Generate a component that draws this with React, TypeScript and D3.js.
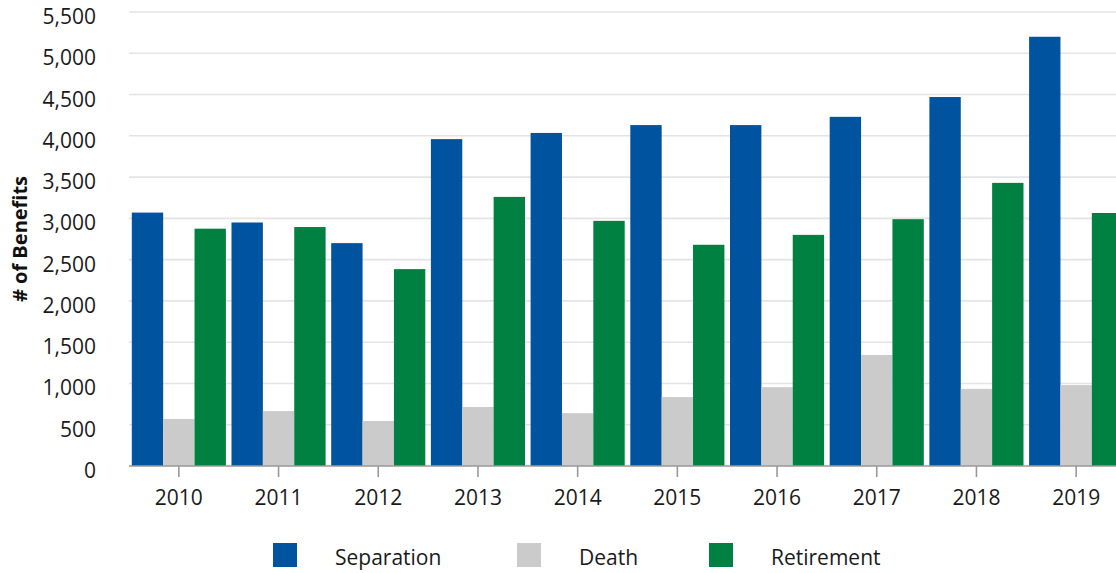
import React from "react";
import * as d3 from "d3";

const years = ["2010", "2011", "2012", "2013", "2014", "2015", "2016", "2017", "2018", "2019"];
const seriesNames = ["Separation", "Death", "Retirement"];
const separation = [3070, 2950, 2700, 3960, 4035, 4130, 4130, 4230, 4470, 5200];
const death = [570, 665, 545, 715, 640, 835, 955, 1345, 935, 980];
const retirement = [2875, 2895, 2385, 3260, 2970, 2680, 2800, 2990, 3430, 3065];
const yTicks = [0, 500, 1000, 1500, 2000, 2500, 3000, 3500, 4000, 4500, 5000, 5500];
const colors = ["#00539f", "#cbcbcb", "#008142"];

const W = 1116;
const H = 573;
const FONT = "'Open Sans', sans-serif";

export default function App() {
  const values = [separation, death, retirement];
  const x0 = d3.scaleBand<string>().domain(years).range([129, 1126]).padding(0);
  const bw = x0.bandwidth();
  const x1 = d3.scaleBand<string>().domain(seriesNames).range([2.8, bw - 2.8]).padding(0);
  const y = d3.scaleLinear().domain([0, 5500]).range([466, 12]);
  const fmt = d3.format(",");

  const legendX = [273, 517, 709];

  return (
    <svg width={W} height={H} style={{ position: "absolute", left: 0, top: 0, background: "#fff" }}>
      {yTicks.map((t) => (
        <g key={t}>
          {t > 0 && (
            <line x1={129} x2={W} y1={y(t)} y2={y(t)} stroke="#e4e4e4" strokeWidth={1.6} />
          )}
          <text x={96} y={y(t) + 12} textAnchor="end" fontFamily={FONT} fontSize={21} fill="#1a1a1a">
            {fmt(t)}
          </text>
        </g>
      ))}
      {years.map((yr, i) => (
        <g key={yr}>
          {seriesNames.map((s, j) => (
            <rect
              key={s}
              x={(x0(yr) as number) + (x1(s) as number)}
              y={y(values[j][i])}
              width={x1.bandwidth()}
              height={y(0) - y(values[j][i])}
              fill={colors[j]}
            />
          ))}
        </g>
      ))}
      <line x1={129} x2={W} y1={y(0)} y2={y(0)} stroke="#999" strokeWidth={1.6} />
      {years.map((yr) => {
        const cx = (x0(yr) as number) + bw / 2;
        return (
          <g key={yr}>
            <line x1={cx} x2={cx} y1={y(0)} y2={477} stroke="#999" strokeWidth={1.6} />
            <text x={cx} y={505} textAnchor="middle" fontFamily={FONT} fontSize={21} fill="#1a1a1a">
              {yr}
            </text>
          </g>
        );
      })}
      <text
        transform={`translate(27,239) rotate(-90)`}
        textAnchor="middle"
        fontFamily={FONT}
        fontSize={20}
        fontWeight="bold"
        fill="#111"
      >
        # of Benefits
      </text>
      {seriesNames.map((s, j) => (
        <g key={s}>
          <rect x={legendX[j]} y={543} width={24} height={24} fill={colors[j]} />
          <text x={legendX[j] + 62} y={565} fontFamily={FONT} fontSize={21} fill="#1a1a1a">
            {s}
          </text>
        </g>
      ))}
    </svg>
  );
}
